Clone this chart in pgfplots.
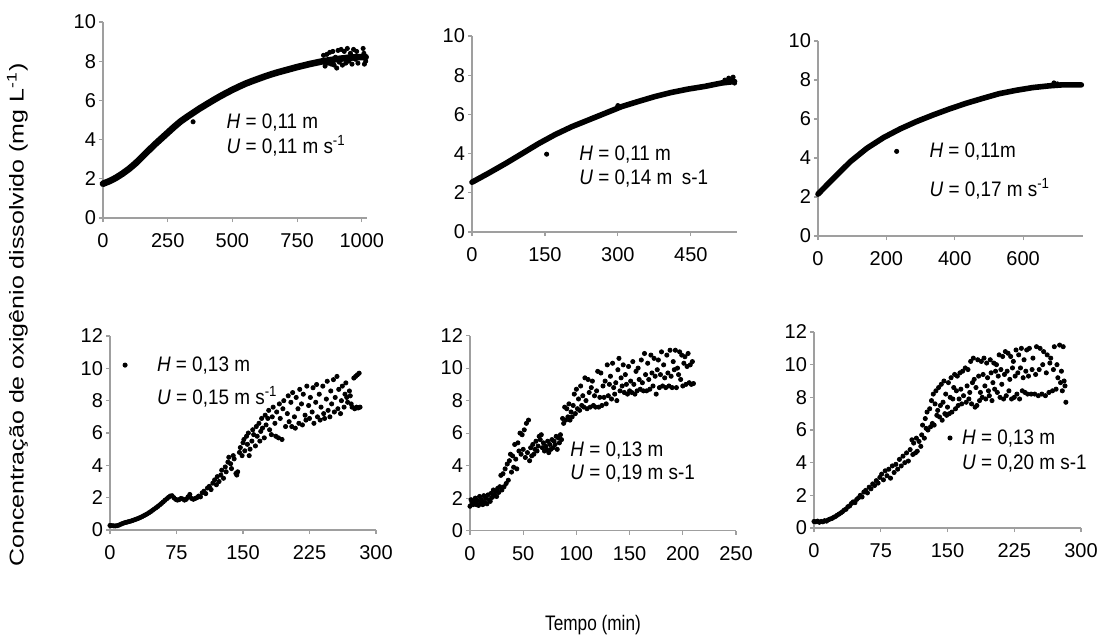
\documentclass[border=0pt]{standalone}
\usepackage{fontspec}
\setmainfont{Liberation Sans}
\usepackage{pgfplots}
\pgfplotsset{compat=1.18}
\usepackage{pgfplotstable}

\pgfplotstableread{
x y
0 1.75
25 1.88
50 2.05
75 2.26
100 2.50
125 2.78
150 3.10
175 3.43
200 3.75
225 4.05
250 4.35
275 4.65
300 4.93
325 5.16
350 5.38
375 5.60
400 5.80
425 6.00
450 6.19
475 6.37
500 6.54
525 6.70
550 6.85
575 6.98
600 7.10
625 7.22
650 7.33
675 7.43
700 7.52
725 7.61
750 7.70
775 7.78
800 7.86
825 7.93
850 8.00
875 8.05
900 8.10
925 8.14
950 8.18
975 8.20
1000 8.21
1015 8.21
}\panelA

\pgfplotstableread{
x y
852 8.30
858 7.75
865 8.35
870 7.90
876 8.45
882 7.85
888 8.50
893 7.80
898 8.20
903 7.65
908 8.55
913 7.95
920 8.60
925 7.80
932 8.50
938 7.90
944 8.65
950 8.00
956 8.40
962 7.85
968 8.60
975 8.10
980 8.50
985 7.90
1005 8.65
1008 8.40
1010 7.85
1015 8.00
348 4.91
}\panelAs

\pgfplotstableread{
x y
0 2.54
34 3.00
68 3.48
103 4.00
137 4.51
171 4.97
205 5.37
239 5.71
273 6.05
308 6.40
342 6.66
376 6.91
410 7.12
444 7.29
479 7.43
513 7.60
540 7.68
}\panelB

\pgfplotstableread{
x y
520 7.75
528 7.85
533 7.70
537 7.90
540 7.60
300 6.45
153.5 3.97
}\panelBs

\pgfplotstableread{
x y
0 2.15
46 2.97
95 3.82
143 4.50
192 5.05
240 5.49
288 5.87
337 6.21
385 6.52
434 6.81
482 7.06
530 7.30
579 7.47
627 7.61
676 7.70
714 7.75
770 7.75
}\panelC

\pgfplotstableread{
x y
690 7.85
700 7.80
230 4.34
}\panelCs

\pgfplotstableread{
x y
17 10.2
0 0.28
2 0.27
4 0.26
6 0.25
8 0.27
10 0.30
12 0.35
14 0.40
16 0.44
18 0.47
20 0.50
22 0.53
24 0.56
26 0.60
28 0.64
30 0.68
32 0.72
34 0.77
36 0.82
38 0.88
40 0.94
42 1.00
44 1.07
46 1.14
48 1.22
50 1.30
52 1.38
54 1.46
56 1.55
58 1.64
60 1.74
62 1.84
64 1.93
66 2.02
68 2.10
70 2.12
72 2.00
74 1.90
76 1.85
78 1.88
80 1.95
82 1.92
84 1.85
86 1.90
88 2.05
90 2.20
92 1.95
94 1.90
96 1.95
98 2.00
100 2.10
102 2.05
104 2.30
106 2.40
108 2.25
110 2.60
112 2.70
114 2.50
116 2.90
118 3.10
120 2.80
121 3.30
123 3.00
125 3.40
126 3.70
128 3.20
130 3.90
131 3.60
133 4.20
134 4.50
136 4.10
137 3.80
139 4.60
140 4.40
142 3.50
143 3.40
144 3.60
146 4.80
147 5.10
149 4.60
150 5.40
151 5.60
152 4.90
154 5.80
155 5.30
156 6.00
157 4.60
158 5.00
160 5.50
161 6.20
162 5.90
164 5.20
165 6.40
166 5.80
168 6.60
169 5.50
170 6.10
171 6.90
172 6.30
174 5.70
175 7.10
176 6.50
178 6.90
179 7.40
180 6.20
182 5.90
183 7.00
184 7.60
186 6.60
187 5.80
188 7.30
190 5.70
191 7.80
192 6.90
194 5.60
195 7.50
196 8.00
198 6.40
200 7.20
201 8.30
202 6.70
204 7.90
205 6.40
206 8.50
208 7.00
209 6.30
210 8.20
212 7.50
213 6.60
214 8.70
216 7.80
217 6.50
218 8.40
220 7.10
221 6.80
222 8.90
224 7.70
225 6.90
226 8.20
228 7.30
229 8.80
230 6.60
232 7.90
233 9.00
234 7.00
236 8.40
237 6.80
238 7.60
240 8.90
241 7.20
242 6.90
244 8.10
245 9.20
246 7.40
248 7.00
249 8.60
250 7.80
252 9.30
253 7.30
254 8.20
256 9.50
257 7.50
258 8.70
260 7.20
261 8.00
262 8.90
264 7.60
265 8.40
266 9.10
267 8.20
268 7.90
270 8.60
271 8.30
272 7.80
273 7.60
275 9.40
276 7.50
277 9.50
278 7.60
279 9.60
280 7.55
281 9.70
282 7.60
}\panelD

\pgfplotstableread{
x y
0 1.5
1 1.9
2 1.7
3 1.6
4 1.8
5 2.0
6 1.6
7 1.85
8 1.55
9 2.1
10 1.7
11 1.9
12 1.6
13 2.15
14 1.75
15 2.0
16 1.65
17 2.2
18 1.9
19 1.8
20 2.3
21 2.05
22 2.5
23 2.2
24 2.4
25 2.1
26 2.6
27 2.35
28 2.7
29 3.4
30 2.5
31 3.5
32 2.7
33 3.8
34 2.9
35 4.1
36 3.1
37 4.3
38 4.7
39 3.6
40 4.6
41 3.9
42 5.3
43 4.4
44 3.8
45 5.4
46 4.9
47 6.0
48 4.7
49 5.9
50 5.0
51 6.2
52 4.5
53 6.6
54 4.8
55 6.8
56 4.3
57 5.1
58 4.6
59 5.3
60 4.7
61 5.0
62 5.5
63 4.9
64 5.2
65 5.8
66 5.6
67 5.9
68 5.1
69 5.4
70 4.9
71 5.2
72 5.0
73 5.5
74 4.8
75 5.3
76 5.0
77 5.6
78 5.1
79 5.5
80 5.3
81 5.8
82 5.0
83 5.7
84 5.4
85 5.9
86 5.6
87 6.9
88 6.6
89 7.6
90 6.8
91 7.5
92 7.0
93 7.8
94 6.8
95 7.3
96 7.0
97 7.7
98 8.4
99 7.2
100 8.7
101 7.5
102 8.1
103 7.4
104 8.9
105 7.7
106 8.3
107 7.6
108 9.4
109 8.0
110 7.5
111 9.3
112 8.5
113 7.6
114 8.8
115 9.2
116 7.7
117 8.3
118 7.6
119 8.6
120 9.8
121 7.6
122 8.2
123 9.7
124 7.7
125 8.9
126 8.2
127 9.2
128 7.8
129 10.2
130 8.3
131 9.0
132 9.5
133 8.1
134 10.3
135 8.8
136 8.4
137 9.1
138 8.0
139 9.9
140 10.6
141 8.6
142 9.4
143 8.9
144 10.2
145 8.5
146 9.6
147 9.0
148 8.4
149 10.1
150 8.6
151 9.2
152 8.5
153 10.4
154 9.0
155 8.4
156 9.8
157 8.6
158 10.0
159 9.3
160 8.7
161 10.5
162 9.1
163 8.6
164 10.9
165 9.6
166 8.6
167 10.3
168 9.3
169 8.7
170 10.8
171 9.7
172 8.9
173 10.6
174 9.5
175 8.4
176 9.9
177 10.5
178 8.8
179 9.6
180 11.0
181 8.9
182 10.2
183 9.4
184 8.8
185 10.8
186 9.7
187 8.9
188 11.1
189 9.5
190 8.8
191 10.4
192 9.9
193 11.1
194 8.8
195 10.0
196 9.6
197 11.0
198 9.3
199 10.8
200 8.9
201 10.3
202 10.7
203 9.0
204 10.1
205 10.9
206 9.1
207 10.2
208 9.0
209 10.4
210 9.05
}\panelE

\pgfplotstableread{
x y
152.8 5.51
0 0.4
2 0.38
4 0.42
6 0.35
8 0.4
10 0.38
12 0.45
14 0.42
16 0.5
18 0.55
20 0.58
22 0.65
24 0.7
26 0.78
28 0.85
30 0.92
32 1.0
34 1.1
36 1.15
38 1.3
40 1.35
42 1.5
44 1.6
46 1.55
48 1.75
50 1.85
52 2.0
54 1.9
56 2.2
58 2.3
60 2.15
62 2.5
64 2.4
66 2.7
68 2.6
70 2.9
72 2.75
74 3.1
76 3.3
78 2.95
80 3.5
82 3.2
84 3.6
86 3.05
88 3.8
90 3.4
92 3.9
94 3.6
96 4.2
98 3.8
100 4.4
102 4.0
104 4.6
106 4.1
108 4.8
110 5.4
111 4.5
112 5.2
114 4.6
115 5.5
116 4.7
118 5.3
120 5.0
121 5.7
122 6.3
124 5.5
125 6.7
126 6.1
127 7.1
128 6.0
130 7.3
131 6.2
132 7.8
133 6.4
134 8.2
135 6.3
136 7.6
137 8.4
138 6.9
139 7.2
140 8.6
141 6.8
142 7.5
143 8.8
144 6.6
145 7.7
146 9.0
147 7.0
148 8.2
149 6.9
150 7.4
151 8.9
152 7.0
153 8.0
154 9.2
155 7.1
156 7.9
157 8.6
158 9.4
159 7.3
160 8.4
161 9.3
162 7.5
163 7.9
164 9.5
165 8.5
166 7.6
167 9.6
168 8.1
170 9.8
171 7.7
172 8.7
173 9.7
174 7.9
175 8.3
176 10.2
177 7.6
178 8.9
179 10.4
180 9.1
181 7.4
182 8.6
183 7.5
184 10.3
185 9.3
186 7.8
187 8.3
188 10.2
189 8.0
190 9.4
191 10.4
192 8.7
193 7.9
194 10.1
195 9.2
196 8.4
197 8.1
198 10.3
199 9.5
200 7.8
201 8.9
202 10.1
203 8.5
204 9.6
205 10.0
206 8.3
207 9.3
208 10.6
209 8.0
210 9.7
211 8.8
212 10.5
213 7.9
214 9.4
215 10.8
216 8.1
217 9.6
218 10.7
219 8.4
220 9.1
221 10.5
222 7.9
223 9.8
224 10.2
225 8.0
226 9.3
227 10.9
228 8.2
229 9.5
230 10.6
231 7.9
232 9.8
233 11.0
234 8.4
235 9.2
236 10.3
237 8.3
238 9.6
239 10.9
240 8.2
241 9.3
242 11.0
244 8.2
245 9.7
246 10.4
248 8.2
249 9.4
250 11.1
252 8.1
253 9.7
254 11.0
256 8.2
257 10.0
258 10.8
260 8.1
261 9.5
262 10.6
264 8.3
265 10.1
266 10.4
268 8.4
269 9.7
270 11.1
272 8.5
273 10.0
274 9.2
276 11.2
277 8.9
278 9.6
279 8.4
280 11.1
281 9.0
282 8.7
283 7.7
}\panelF

\pgfplotsset{
  panel/.style={
    scale only axis,
    axis x line=bottom, axis y line=left,
    axis line style={-, draw=gray!75, line width=0.6pt},
    tick style={draw=gray!75, line width=0.6pt},
    tick align=outside,
    major tick length=2pt,
    xmin=0, ymin=0,
    /pgf/number format/assume math mode=true,
    /pgf/number format/1000 sep={},
    tick label style={font=\fontsize{10}{12}\selectfont},
    xtick pos=bottom, ytick pos=left,
    xticklabel style={yshift=-2.2pt},
    yticklabel style={xshift=2pt},
    clip=false,
  },
  dots/.style={only marks, mark=*, mark size=1.05pt, black},
  band/.style={black, line width=3pt, line join=round, line cap=round, mark=none},
}
\tikzset{ann/.style={anchor=west, inner sep=0pt, font=\fontsize{10.5}{12}\selectfont}}
\newcommand{\sq}[1]{\scalebox{0.9}[1]{#1}}

\begin{document}
\begin{tikzpicture}
\useasboundingbox (0,0) rectangle (551.5pt,319.5pt);

% Panel 1
\begin{axis}[panel, at={(51.5pt,210.5pt)}, anchor=south west,
  width=132pt, height=98pt, xmax=1020, ymax=10,
  xtick={0,250,500,750,1000}, ytick={0,2,4,6,8,10}]
\addplot[band, line width=3.3pt] table {\panelA};
\addplot[dots] table {\panelAs};
\node[ann] at (axis cs:476,4.87) {\sq{\textit{H} = 0,11 m}};
\node[ann] at (axis cs:476,3.70) {\sq{\textit{U} = 0,11 m s\textsuperscript{-1}}};
\end{axis}

% Panel 2
\begin{axis}[panel, at={(236pt,203.5pt)}, anchor=south west,
  width=132.5pt, height=98pt, xmax=545, ymax=10,
  xtick={0,150,300,450}, ytick={0,2,4,6,8,10}]
\addplot[band, line width=2.8pt] table {\panelB};
\addplot[dots] table {\panelBs};
\node[ann] at (axis cs:220,3.97) {\sq{\textit{H} = 0,11 m}};
\node[ann] at (axis cs:220,2.73) {\sq{\textit{U} = 0,14 m\enspace s-1}};
\end{axis}

% Panel 3
\begin{axis}[panel, at={(409pt,201.5pt)}, anchor=south west,
  width=132.5pt, height=97.5pt, xmax=775, ymax=10,
  xtick={0,200,400,600}, ytick={0,2,4,6,8,10}]
\addplot[band, line width=2.8pt] table {\panelC};
\addplot[dots] table {\panelCs};
\node[ann] at (axis cs:325,4.34) {\sq{\textit{H} = 0,11m}};
\node[ann] at (axis cs:325,2.43) {\sq{\textit{U} = 0,17 m s\textsuperscript{-1}}};
\end{axis}

% Panel 4
\begin{axis}[panel, at={(55pt,54.5pt)}, anchor=south west,
  width=133pt, height=97pt, xmax=300, ymax=12,
  xtick={0,75,150,225,300}, ytick={0,2,4,6,8,10,12}]
\addplot[dots] table {\panelD};
\node[ann] at (axis cs:52.6,10.2) {\sq{\textit{H} = 0,13 m}};
\node[ann] at (axis cs:52.6,8.25) {\sq{\textit{U} = 0,15 m s\textsuperscript{-1}}};
\end{axis}

% Panel 5
\begin{axis}[panel, at={(235pt,54.2pt)}, anchor=south west,
  width=133pt, height=97.5pt, xmax=250, ymax=12,
  xtick={0,50,100,150,200,250}, ytick={0,2,4,6,8,10,12}]
\addplot[dots] table {\panelE};
\node[ann] at (axis cs:94,4.92) {\sq{\textit{H} = 0,13 m}};
\node[ann] at (axis cs:94,3.53) {\sq{\textit{U} = 0,19 m s-1}};
\end{axis}

% Panel 6
\begin{axis}[panel, at={(407pt,55.5pt)}, anchor=south west,
  width=133.5pt, height=98pt, xmax=300, ymax=12,
  xtick={0,75,150,225,300}, ytick={0,2,4,6,8,10,12}]
\addplot[dots] table {\panelF};
\node[ann] at (axis cs:166,5.5) {\sq{\textit{H} = 0,13 m}};
\node[ann] at (axis cs:166,3.94) {\sq{\textit{U} = 0,20 m s-1}};
\end{axis}

\node[rotate=90, font=\fontsize{12.5}{14}\selectfont, inner sep=0pt] at (8.7pt,162pt)
  {\scalebox{1}[0.8]{Concentração de oxigênio dissolvido (mg L\textsuperscript{-1})}};
\node[font=\fontsize{10.5}{12}\selectfont, inner sep=0pt] at (296.5pt,7pt) {\scalebox{0.82}[1]{Tempo (min)}};
\end{tikzpicture}
\end{document}
